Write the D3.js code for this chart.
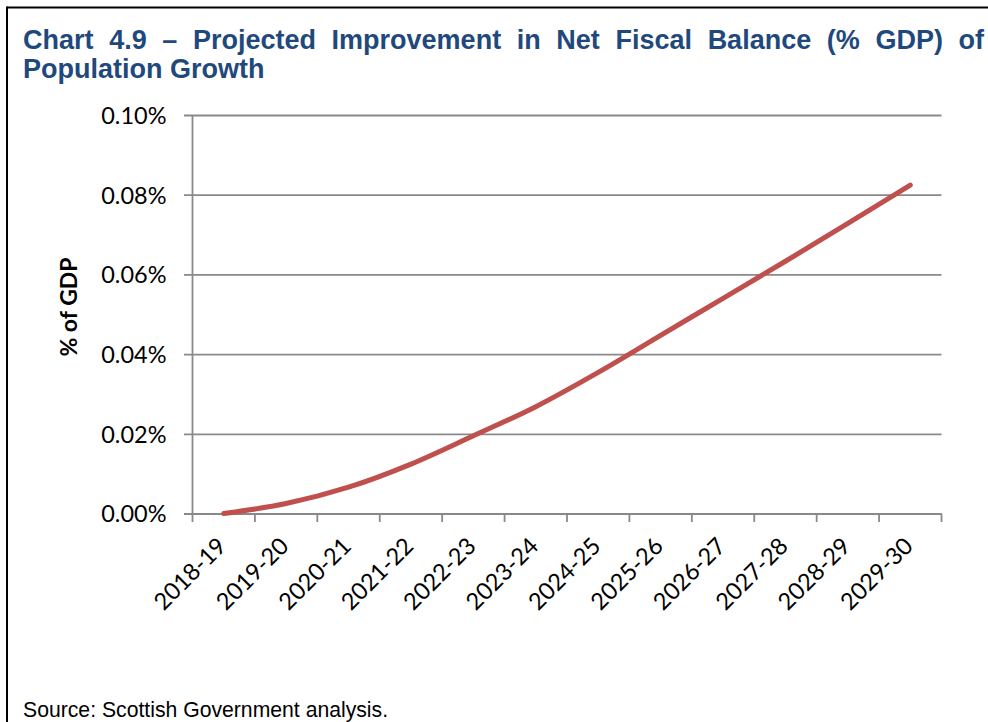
<!DOCTYPE html>
<html lang="en">
  <head>
    <meta charset="UTF-8" />
    <title>Chart 4.9 – Net Fiscal Balance</title>
    <script src="https://cdn.jsdelivr.net/npm/d3@7/dist/d3.min.js"></script>
    <style>
      body {
        margin: 0;
        padding: 0;
        background: #fff;
      }
      svg {
        display: block;
      }
      .tick-label {
        font-family: Lato, "Open Sans", sans-serif;
        font-size: 23.5px;
        fill: #000;
      }
    </style>
  </head>
  <body>
    <svg id="chart"></svg>

    <script>
      // data
      const years = [
        "2018-19", "2019-20", "2020-21", "2021-22", "2022-23", "2023-24",
        "2024-25", "2025-26", "2026-27", "2027-28", "2028-29", "2029-30",
      ];
      // % of GDP, as fractions (0.0001 = 0.01%)
      const improvement = [
        0.0, 0.000025, 0.000066, 0.000124, 0.000195, 0.000268,
        0.000354, 0.000447, 0.00054, 0.000633, 0.000728, 0.000824,
      ];
      const yTicks = [0, 0.0002, 0.0004, 0.0006, 0.0008, 0.001];
      const titleLine1 = "Chart 4.9 – Projected Improvement in Net Fiscal Balance (% GDP) of";
      const titleLine2 = "Population Growth";
      const yTitle = "% of GDP";
      const sourceText = "Source: Scottish Government analysis.";

      const width = 988;
      const height = 722;
      const plot = { left: 192.5, right: 941.5, top: 115, bottom: 513.5 };
      const gridColor = "#898989";

      const svg = d3.select("#chart").attr("width", width).attr("height", height);

      // frame (only top and left edges are visible)
      svg.append("line")
        .attr("x1", 7).attr("y1", 7.5).attr("x2", width).attr("y2", 7.5)
        .attr("stroke", "#000").attr("stroke-width", 2);
      svg.append("line")
        .attr("x1", 7).attr("y1", 6.5).attr("x2", 7).attr("y2", height)
        .attr("stroke", "#000").attr("stroke-width", 2);

      // title, first line justified between the margins
      function drawTitle() {
        const g = svg.append("g")
          .attr("font-family", "'Liberation Sans', Arial, sans-serif")
          .attr("font-weight", "bold")
          .attr("font-size", "27px")
          .attr("fill", "#1F497D");

        const words = titleLine1.split(" ");
        const x0 = 23, x1 = 984;
        const nodes = words.map((w) => g.append("text").attr("y", 48.5).text(w));
        const widths = nodes.map((n) => n.node().getComputedTextLength());
        const gap = (x1 - x0 - d3.sum(widths)) / (words.length - 1);
        let x = x0;
        nodes.forEach((n, i) => {
          n.attr("x", x);
          x += widths[i] + gap;
        });

        g.append("text").attr("x", x0).attr("y", 77.5).text(titleLine2);
      }
      drawTitle();

      const x = d3.scaleBand().domain(years).range([plot.left, plot.right]).padding(0);
      const y = d3.scaleLinear().domain([0, 0.001]).range([plot.bottom, plot.top]);

      // horizontal gridlines + y ticks
      svg.append("g")
        .attr("transform", `translate(${plot.left},0)`)
        .call(
          d3.axisLeft(y)
            .tickValues(yTicks)
            .tickSize(8.5)
            .tickFormat(d3.format(".2%"))
        )
        .call((g) => g.select(".domain").remove())
        .call((g) => g.selectAll(".tick line")
          .attr("x2", plot.right - plot.left)
          .attr("x1", -8.5)
          .attr("stroke", gridColor)
          .attr("stroke-width", 1.8))
        .call((g) => g.selectAll(".tick text")
          .attr("class", "tick-label")
          .attr("x", -26)
          .attr("dy", "0.36em")
          .attr("font-family", null)
          .attr("font-size", null));

      // y axis line
      svg.append("line")
        .attr("x1", plot.left).attr("x2", plot.left)
        .attr("y1", plot.top).attr("y2", plot.bottom)
        .attr("stroke", gridColor).attr("stroke-width", 1.8);

      // x axis: ticks between categories
      const xAxis = svg.append("g").attr("transform", `translate(0,${plot.bottom})`);
      const bounds = years.map((d) => x(d)).concat([plot.right]);
      xAxis.selectAll("line.xt")
        .data(bounds)
        .enter()
        .append("line")
        .attr("class", "xt")
        .attr("x1", (d) => d).attr("x2", (d) => d)
        .attr("y1", 0).attr("y2", 8.5)
        .attr("stroke", gridColor).attr("stroke-width", 1.8);

      xAxis.selectAll("text")
        .data(years)
        .enter()
        .append("text")
        .attr("class", "tick-label")
        .attr("text-anchor", "end")
        .attr("transform", (d) => `translate(${x(d) + x.bandwidth() / 2 + 4},${34}) rotate(-45)`)
        .text((d) => d);

      // y axis title
      svg.append("text")
        .attr("transform", "translate(77,307) rotate(-90)")
        .attr("text-anchor", "middle")
        .attr("font-family", "Lato, 'Open Sans', sans-serif")
        .attr("font-weight", "bold")
        .attr("font-size", "23px")
        .text(yTitle);

      // the series
      const line = d3.line()
        .x((d, i) => x(years[i]) + x.bandwidth() / 2)
        .y((d) => y(d))
        .curve(d3.curveMonotoneX);

      svg.append("path")
        .datum(improvement)
        .attr("d", line)
        .attr("fill", "none")
        .attr("stroke", "#C0504D")
        .attr("stroke-width", 5)
        .attr("stroke-linecap", "round")
        .attr("stroke-linejoin", "round");

      // source note
      svg.append("text")
        .attr("x", 23)
        .attr("y", 716.5)
        .attr("font-family", "'Liberation Sans', Arial, sans-serif")
        .attr("font-size", "21.2px")
        .attr("fill", "#000")
        .text(sourceText);
    </script>
  </body>
</html>
